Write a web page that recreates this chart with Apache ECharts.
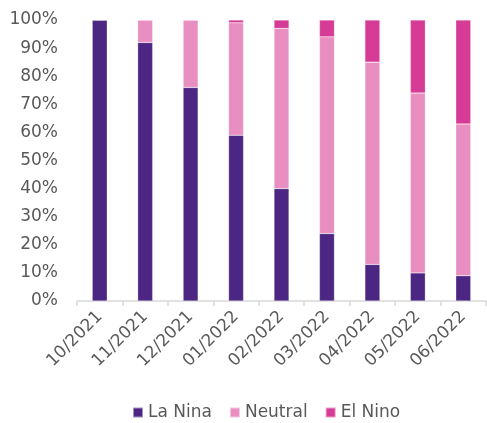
<!DOCTYPE html>
<html>
<head>
<meta charset="utf-8">
<script src="https://cdn.jsdelivr.net/npm/echarts@6/dist/echarts.min.js"></script>
<style>
  html, body { margin: 0; padding: 0; background: #fff; overflow: hidden; }
  #chart { width: 487px; height: 423px; }
</style>
</head>
<body>
<div id="chart"></div>
<script>
var months = ['10/2021', '11/2021', '12/2021', '01/2022', '02/2022', '03/2022', '04/2022', '05/2022', '06/2022'];
var laNina = [100, 92, 76, 59, 40, 24, 13, 10, 9];
var neutral = [0, 8, 24, 40, 57, 70, 72, 64, 54];
var elNino = [0, 0, 0, 1, 3, 6, 15, 26, 37];

var font = 'DejaVu Sans';
var textColor = '#595959';

function barSeries(name, data, color) {
    return {
        name: name,
        type: 'bar',
        stack: 'total',
        barWidth: 15,
        data: data,
        itemStyle: {
            color: color,
            borderColor: 'rgba(255,255,255,0.5)',
            borderWidth: 0.5
        }
    };
}

var myChart = echarts.init(document.getElementById('chart'));
myChart.setOption({
    animation: false,
    textStyle: { fontFamily: font },
    grid: {
        left: 77,
        right: 1,
        top: 20,
        bottom: 122
    },
    legend: {
        bottom: 2,
        left: 132,
        padding: 0,
        itemWidth: 10,
        itemHeight: 10,
        itemGap: 17,
        icon: 'rect',
        textStyle: { fontSize: 17, color: textColor, fontFamily: font },
        data: ['La Nina', 'Neutral', 'El Nino']
    },
    xAxis: {
        type: 'category',
        data: months,
        axisLine: { lineStyle: { color: '#d9d9d9', width: 1.5 } },
        axisTick: { show: true, length: 5, lineStyle: { color: '#d9d9d9', width: 1.5 } },
        axisLabel: {
            rotate: 45,
            interval: 0,
            color: textColor,
            fontSize: 17,
            fontFamily: font,
            margin: 13
        }
    },
    yAxis: {
        type: 'value',
        min: 0,
        max: 100,
        interval: 10,
        axisLine: { show: false },
        axisTick: { show: false },
        splitLine: { show: false },
        axisLabel: {
            formatter: '{value}%',
            color: textColor,
            fontSize: 17,
            fontFamily: font,
            margin: 19
        }
    },
    series: [
        barSeries('La Nina', laNina, '#4b2683'),
        barSeries('Neutral', neutral, '#e88ec0'),
        barSeries('El Nino', elNino, '#d63b96')
    ]
});
</script>
</body>
</html>
